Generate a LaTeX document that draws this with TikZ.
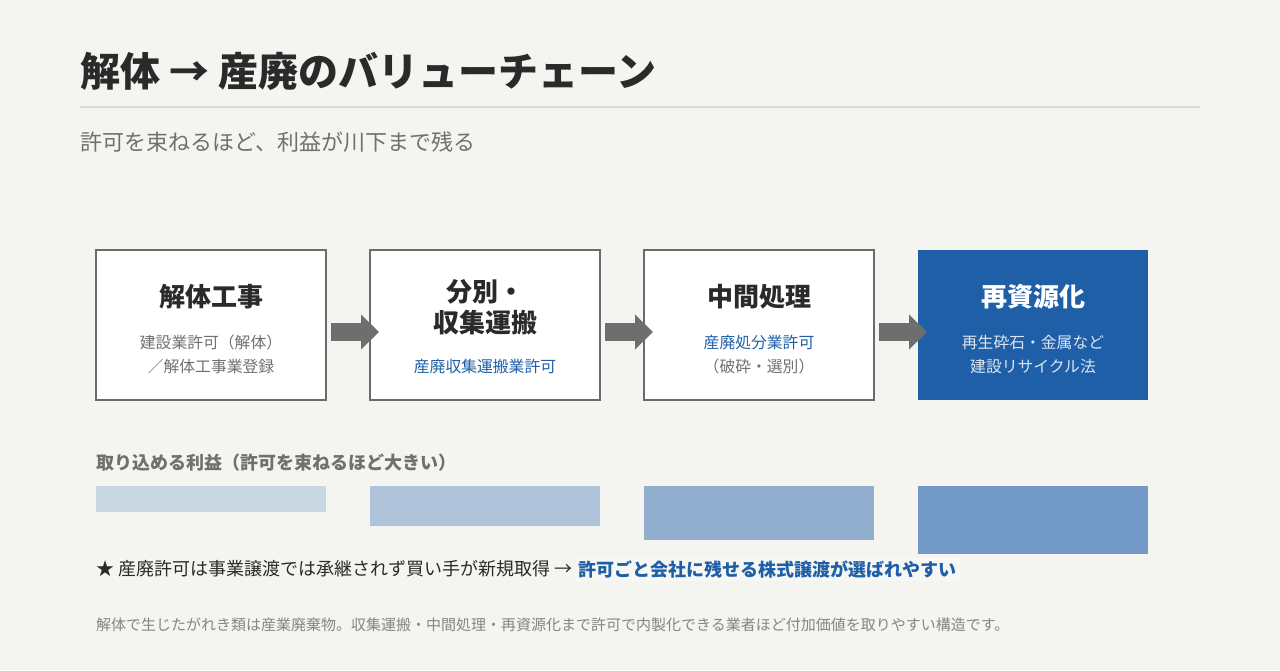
\documentclass[tikz,border=0pt]{standalone}
\usepackage{fontspec}
\setmainfont{Noto Sans CJK JP}
\usetikzlibrary{positioning,arrows.meta}
\definecolor{Bg}{HTML}{F4F4F1}
\definecolor{Ink}{HTML}{2A2A2A}
\definecolor{Rule}{HTML}{DADAD6}
\definecolor{Grey}{HTML}{707070}
\definecolor{Edge}{HTML}{6B6B6B}
\definecolor{Arr}{HTML}{6E6E6E}
\definecolor{Blue}{HTML}{1F5FA8}
\definecolor{Pale}{HTML}{DCE6F3}
\definecolor{BarA}{HTML}{C9D7E3}
\definecolor{BarB}{HTML}{AFC3DB}
\definecolor{BarC}{HTML}{92AECF}
\definecolor{BarD}{HTML}{7399C6}
\begin{document}
\begin{tikzpicture}[x=1pt,y=-1pt,node distance=42pt,
 b/.style={draw=Edge,line width=2pt,fill=white,minimum width=230pt,minimum height=150pt,inner sep=0pt},
 h/.style={font=\fontsize{26}{31}\selectfont\bfseries,text=Ink,align=center,inner sep=0pt},
 s/.style={font=\fontsize{15.8}{24}\selectfont,text=Grey,align=center,inner sep=0pt},
 bar/.style={minimum width=230pt,inner sep=0pt,anchor=north},
 a/.style={-{Triangle[length=18pt,width=34pt]},line width=18pt,Arr}]
\useasboundingbox[fill=Bg] (0,0) rectangle (1280,670);
% heading
\node[anchor=base west,inner sep=0pt,text=Ink,font=\fontsize{40}{42}\selectfont\bfseries] (title) at (80,86) {解体 → 産廃のバリューチェーン};
\draw[Rule,line width=1.5pt] (80,107) -- (1200,107);
\node[anchor=west,inner sep=0pt,text=Grey,font=\fontsize{22}{24}\selectfont] (sub) at (80,142) {許可を束ねるほど、利益が川下まで残る};
% chain
\node[b] (b1) at (211,325) {};
\node[b,right=of b1] (b2) {};
\node[b,right=of b2] (b3) {};
\node[b,right=of b3,draw=none,fill=Blue] (b4) {};
\node[h] (t1) at ([yshift=-48pt]b1.north) {解体工事};
\node[s,below=25pt of t1] (s1) {建設業許可（解体）\\／解体工事業登録};
\node[h] (t2) at ([yshift=-58pt]b2.north) {分別・\\収集運搬};
\node[s,text=Blue,below=24pt of t2] (s2) {産廃収集運搬業許可};
\node[h] (t3) at ([yshift=-48pt]b3.north) {中間処理};
\node[s,below=25pt of t3] (s3) {{\color{Blue}産廃処分業許可}\\（破砕・選別）};
\node[h,text=white] (t4) at ([yshift=-48pt]b4.north) {再資源化};
\node[s,text=Pale,below=25pt of t4] (s4) {再生砕石・金属など\\建設リサイクル法};
\draw[a] ([shift={(4pt,-7pt)}]b1.east) -- ([shift={(10pt,-7pt)}]b2.west);
\draw[a] ([shift={(4pt,-7pt)}]b2.east) -- ([shift={(10pt,-7pt)}]b3.west);
\draw[a] ([shift={(4pt,-7pt)}]b3.east) -- ([shift={(10pt,-7pt)}]b4.west);
% profit bars
\node[anchor=west,inner sep=0pt,text=Grey,font=\fontsize{18}{20}\selectfont\bfseries] (lab) at (96,463) {取り込める利益（許可を束ねるほど大きい）};
\node[bar,fill=BarA,minimum height=26pt] (p1) at ([yshift=-85pt]b1.south) {};
\node[bar,fill=BarB,minimum height=40pt] (p2) at ([yshift=-85pt]b2.south) {};
\node[bar,fill=BarC,minimum height=54pt] (p3) at ([yshift=-85pt]b3.south) {};
\node[bar,fill=BarD,minimum height=68pt] (p4) at ([yshift=-85pt]b4.south) {};
% notes
\node[anchor=west,inner sep=0pt,text=Ink,font=\fontsize{18}{20}\selectfont] (n1) at (96,569) {★ 産廃許可は事業譲渡では承継されず買い手が新規取得 →};
\node[right=3pt of n1,inner sep=3pt,fill=white!25!Bg,text=Blue,font=\fontsize{18}{20}\selectfont\bfseries] (n2) {許可ごと会社に残せる株式譲渡が選ばれやすい};
\node[anchor=west,inner sep=0pt,text=Grey!85,font=\fontsize{15}{16}\selectfont] (foot) at (96,625) {解体で生じたがれき類は産業廃棄物。収集運搬・中間処理・再資源化まで許可で内製化できる業者ほど付加価値を取りやすい構造です。};
\end{tikzpicture}
\end{document}
